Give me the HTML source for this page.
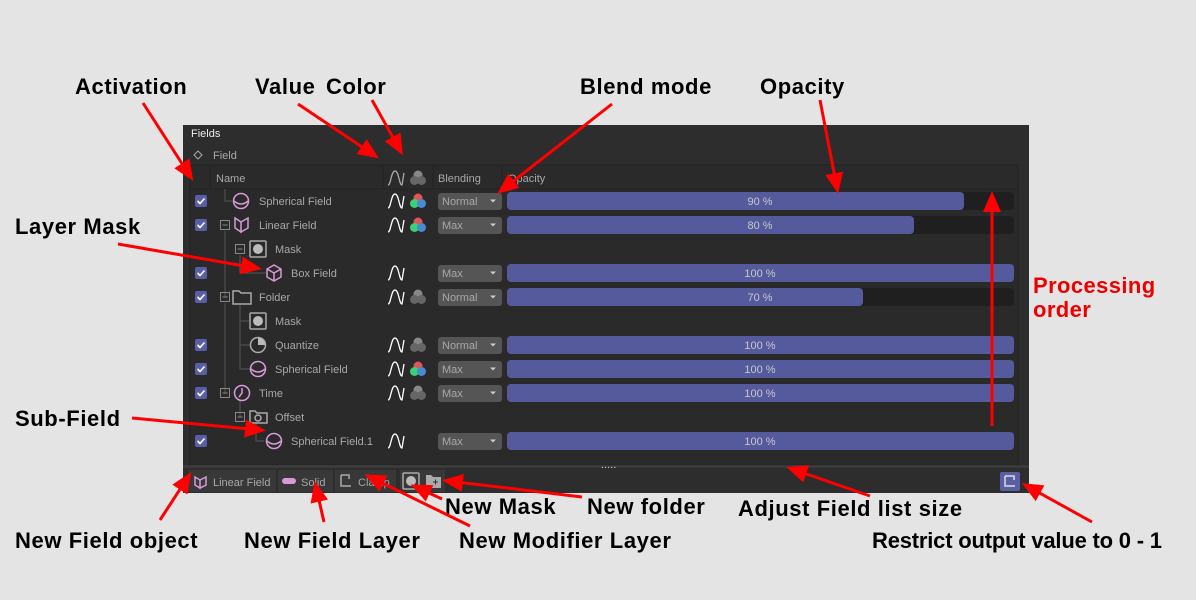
<!DOCTYPE html>
<html><head><meta charset="utf-8"><style>
body{margin:0;background:#e4e4e4;width:1196px;height:600px;overflow:hidden}
svg{display:block}
.t{font-family:"Liberation Sans",sans-serif;font-size:11px;fill:#c8c8c8}
.d{font-family:"Liberation Sans",sans-serif;font-size:11px;fill:#a8a8a8}
.L{font-family:"Liberation Sans",sans-serif;font-weight:bold;font-size:22px;fill:#000;letter-spacing:0.6px}
.R{font-family:"Liberation Sans",sans-serif;font-weight:bold;font-size:22px;fill:#e00;letter-spacing:0.4px}
.a{stroke:#f00;stroke-width:3;fill:none;marker-end:url(#ah)}
.bar{fill:#545a9b}
.tr{fill:#1f1f1f}
.bl{fill:#555}
.ic{stroke:#d79ad9;stroke-width:1.5;fill:none}
.gi{stroke:#aaa;stroke-width:1.5;fill:none}
.cb{fill:#5a5fa5}
.tree{stroke:#555;stroke-width:1;fill:none}
</style></head><body>
<svg width="1196" height="600" viewBox="0 0 1196 600">
<defs>
<marker id="ah" markerWidth="7" markerHeight="6" refX="5" refY="3" orient="auto" markerUnits="strokeWidth"><path d="M0,0 L7,3 L0,6 z" fill="#f00"/></marker>
<g id="cb"><rect x="-6" y="-6" width="12" height="12" rx="2" class="cb"/><path d="M-3.5,0 L-1,2.5 L3.5,-2.5" stroke="#fff" stroke-width="1.6" fill="none"/></g>
<g id="wv"><path d="M-8,7 C-5,7 -5,-7 -1,-7 C3,-7 3,7 6,7 L8,-5" stroke="#fff" stroke-width="1.3" fill="none"/></g>
<g id="col"><circle cx="0" cy="-3" r="4.5" fill="#e05555"/><circle cx="-3.5" cy="2.5" r="4.5" fill="#3ad07a"/><circle cx="3.5" cy="2.5" r="4.5" fill="#4a8ad0"/></g>
<g id="colg"><circle cx="0" cy="-3" r="4.5" fill="#888"/><circle cx="-3.5" cy="2.5" r="4.5" fill="#666"/><circle cx="3.5" cy="2.5" r="4.5" fill="#666"/></g>
<g id="sph"><circle cx="0" cy="0" r="7.5" class="ic"/><path d="M-7,0 Q0,6 7,0" class="ic"/></g>
<g id="msk"><rect x="-8" y="-8" width="16" height="16" rx="1" class="gi"/><circle cx="0" cy="0" r="5" fill="#bbb"/></g>
<g id="mn"><rect x="-4.5" y="-4.5" width="9" height="9" fill="none" stroke="#888"/><path d="M-2.5,0 H2.5" stroke="#888"/></g>
<g id="dd"><path d="M-3,-1.5 L3,-1.5 L0,1.5z" fill="#ccc"/></g>
</defs>

<rect x="183" y="125" width="846" height="368" fill="#2d2d2d"/>
<rect x="190" y="165" width="828" height="300" fill="#2a2a2a" stroke="#222"/>
<line x1="190" y1="189" x2="1018" y2="189" stroke="#222"/>
<line x1="210" y1="166" x2="210" y2="189" stroke="#222"/>
<line x1="383" y1="166" x2="383" y2="189" stroke="#222"/>
<line x1="433" y1="166" x2="433" y2="189" stroke="#222"/>
<line x1="502" y1="166" x2="502" y2="189" stroke="#222"/>
<rect x="183" y="465" width="846" height="3" fill="#3a3a3a"/>
<text x="601" y="468" class="t" font-size="8">.....</text>
<text x="191" y="137" class="t" style="fill:#eee">Fields</text>
<path d="M198,151 l4,4 l-4,4 l-4,-4z" stroke="#aaa" fill="none"/>
<text x="213" y="159" class="d">Field</text>
<text x="216" y="182" class="d">Name</text>
<use href="#wv" x="396" y="178" opacity="0.6"/>
<use href="#colg" x="418" y="178"/>
<text x="438" y="182" class="d">Blending</text>
<text x="508" y="182" class="d">Opacity</text>

<path d="M225,189 V201 H232 M225,231 V297 M225,303 V393 M240,255 V273 H266 M240,303 V369 H250 M240,321 H250 M240,345 H250 M240,399 V417 M256,423 V441 H264" class="tree"/>

<g>
<use href="#cb" x="201" y="201"/><use href="#sph" x="241" y="201"/><text x="259" y="205" class="d">Spherical Field</text>
<use href="#wv" x="396" y="201"/><use href="#col" x="418" y="201"/>
<rect x="438" y="193" width="64" height="17" rx="3" class="bl"/><text x="442" y="205" class="d">Normal</text><use href="#dd" x="493" y="201"/>
<rect x="507" y="192" width="507" height="18" rx="4" class="tr"/><rect x="507" y="192" width="457" height="18" rx="4" class="bar"/><text x="760" y="205" class="t" text-anchor="middle">90 %</text>

<use href="#cb" x="201" y="225"/><use href="#mn" x="225" y="225"/><path d="M235,218 l6,4 v10 l-6,-4z M241,222 l7,-4 v10 l-7,4z" class="ic"/><text x="259" y="229" class="d">Linear Field</text>
<use href="#wv" x="396" y="225"/><use href="#col" x="418" y="225"/>
<rect x="438" y="217" width="64" height="17" rx="3" class="bl"/><text x="442" y="229" class="d">Max</text><use href="#dd" x="493" y="225"/>
<rect x="507" y="216" width="507" height="18" rx="4" class="tr"/><rect x="507" y="216" width="407" height="18" rx="4" class="bar"/><text x="760" y="229" class="t" text-anchor="middle">80 %</text>

<use href="#mn" x="240" y="249"/><use href="#msk" x="258" y="249"/><text x="275" y="253" class="d">Mask</text>

<use href="#cb" x="201" y="273"/><path d="M274,265 l7,4 v8 l-7,4 l-7,-4 v-8z M267,269 l7,4 l7,-4 M274,273 v8" class="ic"/><text x="291" y="277" class="d">Box Field</text>
<use href="#wv" x="396" y="273"/>
<rect x="438" y="265" width="64" height="17" rx="3" class="bl"/><text x="442" y="277" class="d">Max</text><use href="#dd" x="493" y="273"/>
<rect x="507" y="264" width="507" height="18" rx="4" class="bar"/><text x="760" y="277" class="t" text-anchor="middle">100 %</text>

<use href="#cb" x="201" y="297"/><use href="#mn" x="225" y="297"/><path d="M233,291 h6 l2,2 h10 v11 h-18z" class="gi"/><text x="259" y="301" class="d">Folder</text>
<use href="#wv" x="396" y="297"/><use href="#colg" x="418" y="297"/>
<rect x="438" y="289" width="64" height="17" rx="3" class="bl"/><text x="442" y="301" class="d">Normal</text><use href="#dd" x="493" y="297"/>
<rect x="507" y="288" width="507" height="18" rx="4" class="tr"/><rect x="507" y="288" width="356" height="18" rx="4" class="bar"/><text x="760" y="301" class="t" text-anchor="middle">70 %</text>

<use href="#msk" x="258" y="321"/><text x="275" y="325" class="d">Mask</text>

<use href="#cb" x="201" y="345"/><circle cx="258" cy="345" r="7.5" class="gi"/><path d="M258,345 V338 A7,7 0 0 1 265,345z" fill="#bbb"/><text x="275" y="349" class="d">Quantize</text>
<use href="#wv" x="396" y="345"/><use href="#colg" x="418" y="345"/>
<rect x="438" y="337" width="64" height="17" rx="3" class="bl"/><text x="442" y="349" class="d">Normal</text><use href="#dd" x="493" y="345"/>
<rect x="507" y="336" width="507" height="18" rx="4" class="bar"/><text x="760" y="349" class="t" text-anchor="middle">100 %</text>

<use href="#cb" x="201" y="369"/><use href="#sph" x="258" y="369"/><text x="275" y="373" class="d">Spherical Field</text>
<use href="#wv" x="396" y="369"/><use href="#col" x="418" y="369"/>
<rect x="438" y="361" width="64" height="17" rx="3" class="bl"/><text x="442" y="373" class="d">Max</text><use href="#dd" x="493" y="369"/>
<rect x="507" y="360" width="507" height="18" rx="4" class="bar"/><text x="760" y="373" class="t" text-anchor="middle">100 %</text>

<use href="#cb" x="201" y="393"/><use href="#mn" x="225" y="393"/><circle cx="242" cy="393" r="7.5" class="ic"/><path d="M242,388 V393 L239,397" class="ic"/><text x="259" y="397" class="d">Time</text>
<use href="#wv" x="396" y="393"/><use href="#colg" x="418" y="393"/>
<rect x="438" y="385" width="64" height="17" rx="3" class="bl"/><text x="442" y="397" class="d">Max</text><use href="#dd" x="493" y="393"/>
<rect x="507" y="384" width="507" height="18" rx="4" class="bar"/><text x="760" y="397" class="t" text-anchor="middle">100 %</text>

<use href="#mn" x="240" y="417"/><path d="M250,411 h5 l2,2 h10 v10 h-17z" class="gi"/><circle cx="258" cy="418" r="3" class="gi"/><text x="275" y="421" class="d">Offset</text>

<use href="#cb" x="201" y="441"/><use href="#sph" x="274" y="441"/><text x="291" y="445" class="d">Spherical Field.1</text>
<use href="#wv" x="396" y="441"/>
<rect x="438" y="433" width="64" height="17" rx="3" class="bl"/><text x="442" y="445" class="d">Max</text><use href="#dd" x="493" y="441"/>
<rect x="507" y="432" width="507" height="18" rx="4" class="bar"/><text x="760" y="445" class="t" text-anchor="middle">100 %</text>
</g>

<rect x="188" y="470" width="208" height="22" fill="#383838"/>
<line x1="277" y1="470" x2="277" y2="492" stroke="#2d2d2d" stroke-width="2"/>
<line x1="334" y1="470" x2="334" y2="492" stroke="#2d2d2d" stroke-width="2"/>
<path d="M195,477 l5,3 v8 l-5,-3z M200,480 l6,-3 v8 l-6,3z" class="ic"/>
<text x="213" y="486" class="d">Linear Field</text>
<rect x="282" y="478" width="14" height="6" rx="3" fill="#d79ad9"/>
<text x="301" y="486" class="d">Solid</text>
<path d="M341,475 h8 v4 M341,475 v11 h10" class="gi"/>
<text x="358" y="486" class="d">Clamp</text>
<rect x="400" y="470" width="45" height="22" fill="#383838"/>
<use href="#msk" x="411" y="481"/>
<path d="M426,475 h5 l2,2 h8 v11 h-15z" fill="#aaa"/><path d="M433,482 h5 M435.5,479.5 v5" stroke="#333"/>
<rect x="1000" y="472" width="20" height="19" rx="2" fill="#5a5fa5"/>
<path d="M1005,476 h9 v4 M1005,476 v10 h10" stroke="#ddd" stroke-width="1.5" fill="none"/>

<text x="75" y="94" class="L">Activation</text>
<text x="255" y="94" class="L">Value</text>
<text x="326" y="94" class="L">Color</text>
<text x="580" y="94" class="L">Blend mode</text>
<text x="760" y="94" class="L">Opacity</text>
<text x="15" y="234" class="L">Layer Mask</text>
<text x="15" y="426" class="L">Sub-Field</text>
<text x="1033" y="293" class="R">Processing</text>
<text x="1033" y="317" class="R">order</text>
<text x="445" y="514" class="L">New Mask</text>
<text x="587" y="514" class="L">New folder</text>
<text x="738" y="516" class="L">Adjust Field list size</text>
<text x="15" y="548" class="L">New Field object</text>
<text x="244" y="548" class="L">New Field Layer</text>
<text x="459" y="548" class="L">New Modifier Layer</text>
<text x="872" y="548" class="L" style="letter-spacing:-0.2px">Restrict output value to 0 - 1</text>

<line x1="143" y1="103" x2="190" y2="176" class="a"/>
<line x1="298" y1="104" x2="374" y2="155" class="a"/>
<line x1="372" y1="100" x2="400" y2="150" class="a"/>
<line x1="612" y1="104" x2="502" y2="190" class="a"/>
<line x1="820" y1="100" x2="837" y2="188" class="a"/>
<line x1="118" y1="244" x2="256" y2="268" class="a"/>
<line x1="132" y1="418" x2="260" y2="430" class="a"/>
<line x1="992" y1="426" x2="992" y2="197" class="a"/>
<line x1="160" y1="520" x2="188" y2="477" class="a"/>
<line x1="324" y1="522" x2="316" y2="487" class="a"/>
<line x1="470" y1="526" x2="370" y2="477" class="a"/>
<line x1="442" y1="499" x2="416" y2="487" class="a"/>
<line x1="582" y1="497" x2="448" y2="481" class="a"/>
<line x1="870" y1="496" x2="792" y2="469" class="a"/>
<line x1="1092" y1="522" x2="1027" y2="486" class="a"/>
</svg>
</body></html>
